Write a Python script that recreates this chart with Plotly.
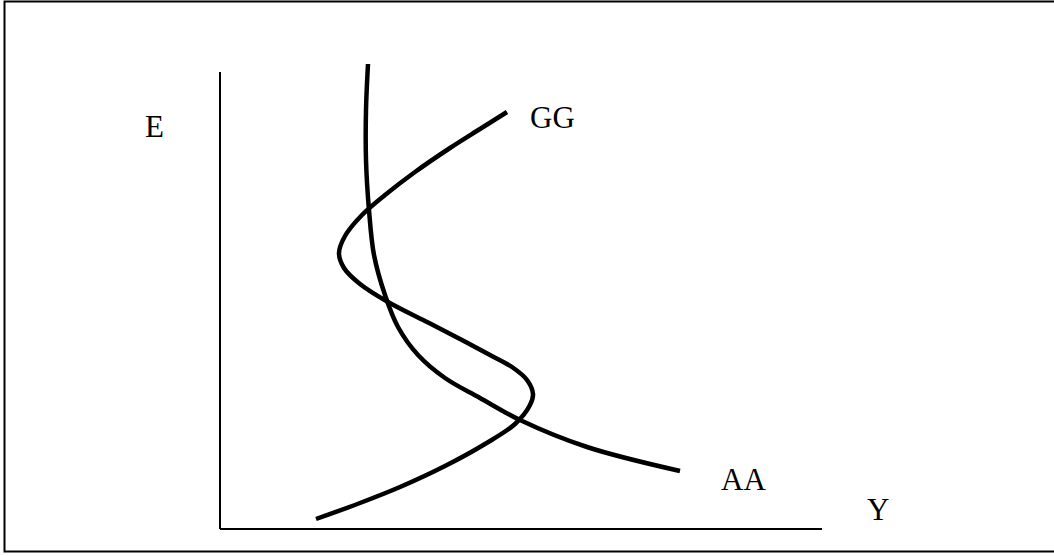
import plotly.graph_objects as go

# Curve data (Y on horizontal axis, E on vertical axis), arbitrary units
gg_y = [9.6, 14.0, 18.0, 22.5, 26.5, 29.5, 31.0, 31.3, 30.7, 29.2, 27.0, 24.0,
        20.5, 16.8, 14.0, 12.4, 11.9, 12.5, 14.2, 16.5, 19.5, 23.0, 26.0, 28.7]
gg_e = [1.0, 2.6, 4.2, 6.3, 8.5, 10.5, 12.4, 13.5, 14.9, 16.2, 17.4, 19.0,
        20.8, 22.7, 24.5, 26.1, 27.6, 29.3, 31.4, 33.4, 35.7, 38.1, 40.0, 41.7]

aa_y = [14.8, 14.6, 14.6, 14.9, 15.4, 16.5, 17.8, 19.8, 22.5, 26.0, 30.0, 36.7, 46.0]
aa_e = [46.5, 41.9, 36.9, 31.9, 27.4, 23.4, 20.2, 17.4, 15.1, 13.1, 10.9, 8.2, 5.8]

axis_len_y = 60.2
axis_len_e = 45.7

labels = ["E", "GG", "AA", "Y"]
label_x = [-6.6, 30.8, 49.9, 64.5]
label_y = [40.3, 41.2, 5.0, 2.0]
label_anchor = ["center", "left", "left", "left"]

FONT = "Liberation Serif, Times New Roman, serif"

fig = go.Figure()
for xs, ys in ((gg_y, gg_e), (aa_y, aa_e)):
    fig.add_trace(go.Scatter(x=xs, y=ys, mode="lines",
                             line=dict(color="black", width=4.5, shape="spline", smoothing=1.0),
                             hoverinfo="skip", showlegend=False))

# axes
fig.add_shape(type="line", xref="x", yref="y", x0=0, y0=0, x1=0, y1=axis_len_e,
              line=dict(color="black", width=2))
fig.add_shape(type="line", xref="x", yref="y", x0=0, y0=0, x1=axis_len_y, y1=0,
              line=dict(color="black", width=2))

# border
fig.add_shape(type="rect", xref="paper", yref="paper",
              x0=4.5 / 1054, x1=1.01, y0=1 - 551.5 / 556, y1=1 - 1.5 / 556,
              line=dict(color="black", width=2), fillcolor="rgba(0,0,0,0)")

for t, x, y, a in zip(labels, label_x, label_y, label_anchor):
    fig.add_annotation(x=x, y=y, text=t, showarrow=False, xanchor=a, yanchor="middle",
                       font=dict(family=FONT, size=31, color="black"))

fig.update_layout(
    width=1054, height=556,
    margin=dict(l=0, r=0, t=0, b=0),
    paper_bgcolor="white", plot_bgcolor="white",
    xaxis=dict(range=[-22.0, 83.4], visible=False, fixedrange=True),
    yaxis=dict(range=[-2.7, 52.9], visible=False, fixedrange=True),
    showlegend=False,
)

fig.write_html("out.html", config={"displayModeBar": False},
               post_script="document.body.style.margin='0';document.body.style.overflow='hidden';")
